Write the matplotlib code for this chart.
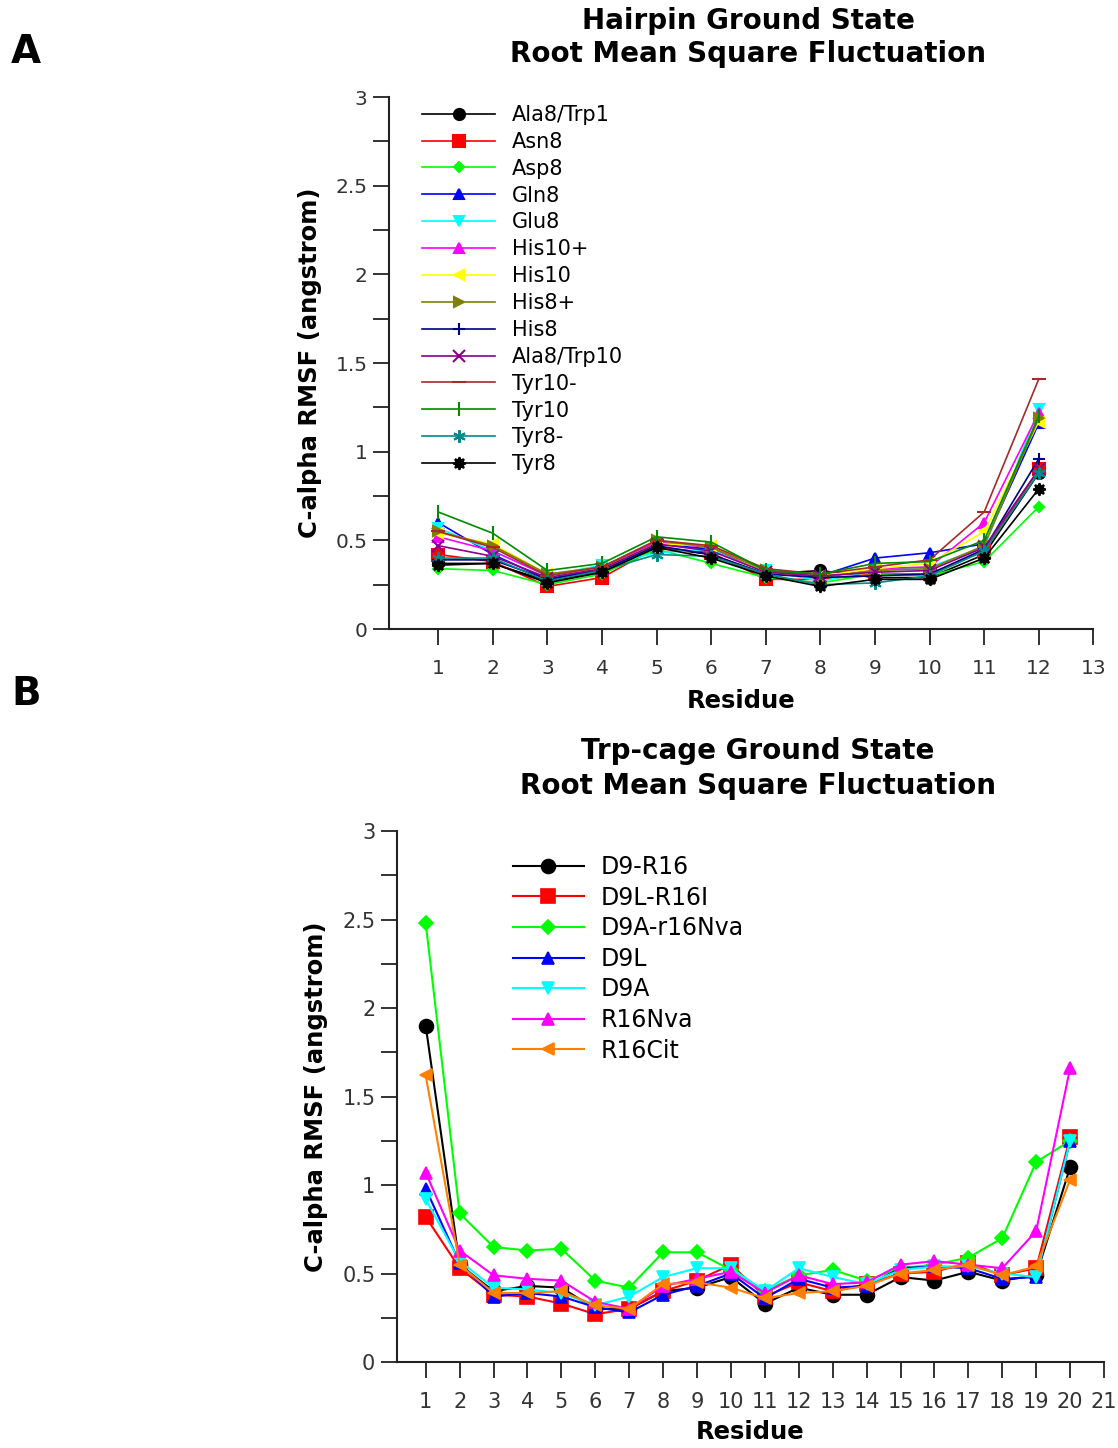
import matplotlib
matplotlib.use('Agg')
import numpy as np
from matplotlib import pyplot as plt
from matplotlib.ticker import MultipleLocator, FormatStrFormatter

# Panel A: hairpin ground state RMSF, residues 1-12
res_a = list(range(1, 13))
names_a = ['Ala8/Trp1', 'Asn8', 'Asp8', 'Gln8', 'Glu8', 'His10+', 'His10',
           'His8+', 'His8', 'Ala8/Trp10', 'Tyr10-', 'Tyr10', 'Tyr8-', 'Tyr8']
ala8_trp1 = [0.37, 0.37, 0.27, 0.32, 0.46, 0.42, 0.31, 0.33, 0.29, 0.29, 0.42, 0.88]
asn8 = [0.42, 0.38, 0.24, 0.29, 0.46, 0.43, 0.28, 0.28, 0.31, 0.31, 0.44, 0.90]
asp8 = [0.34, 0.33, 0.25, 0.31, 0.45, 0.37, 0.29, 0.26, 0.31, 0.30, 0.38, 0.69]
gln8 = [0.60, 0.42, 0.28, 0.34, 0.48, 0.45, 0.33, 0.30, 0.40, 0.43, 0.48, 1.16]
glu8 = [0.57, 0.44, 0.30, 0.36, 0.43, 0.45, 0.33, 0.27, 0.33, 0.35, 0.46, 1.24]
his10p = [0.52, 0.44, 0.30, 0.35, 0.49, 0.46, 0.32, 0.29, 0.34, 0.35, 0.60, 1.22]
his10 = [0.54, 0.48, 0.31, 0.34, 0.48, 0.47, 0.32, 0.30, 0.34, 0.37, 0.55, 1.17]
his8p = [0.55, 0.47, 0.31, 0.35, 0.50, 0.46, 0.33, 0.29, 0.33, 0.34, 0.47, 1.19]
his8 = [0.39, 0.39, 0.28, 0.33, 0.47, 0.42, 0.31, 0.29, 0.30, 0.31, 0.45, 0.96]
ala8_trp10 = [0.47, 0.41, 0.29, 0.34, 0.48, 0.44, 0.32, 0.30, 0.32, 0.33, 0.46, 0.90]
tyr10m = [0.55, 0.46, 0.30, 0.35, 0.50, 0.47, 0.34, 0.31, 0.35, 0.39, 0.66, 1.41]
tyr10 = [0.66, 0.54, 0.33, 0.37, 0.52, 0.49, 0.33, 0.31, 0.37, 0.38, 0.50, 1.20]
tyr8m = [0.40, 0.40, 0.27, 0.33, 0.42, 0.41, 0.31, 0.25, 0.26, 0.30, 0.44, 0.88]
tyr8 = [0.36, 0.37, 0.26, 0.32, 0.46, 0.40, 0.30, 0.24, 0.28, 0.28, 0.40, 0.79]
vals_a = [ala8_trp1, asn8, asp8, gln8, glu8, his10p, his10, his8p, his8,
          ala8_trp10, tyr10m, tyr10, tyr8m, tyr8]

# Panel B: Trp-cage ground state RMSF, residues 1-20
res_b = list(range(1, 21))
names_b = ['D9-R16', 'D9L-R16I', 'D9A-r16Nva', 'D9L', 'D9A', 'R16Nva', 'R16Cit']
d9_r16 = [1.90, 0.55, 0.40, 0.43, 0.42, 0.30, 0.30, 0.40, 0.42, 0.48,
          0.33, 0.42, 0.38, 0.38, 0.48, 0.46, 0.51, 0.46, 0.49, 1.10]
d9l_r16i = [0.82, 0.53, 0.38, 0.37, 0.33, 0.27, 0.30, 0.40, 0.46, 0.55,
            0.37, 0.45, 0.40, 0.44, 0.50, 0.51, 0.56, 0.49, 0.53, 1.27]
d9a_r16nva = [2.48, 0.84, 0.65, 0.63, 0.64, 0.46, 0.42, 0.62, 0.62, 0.52,
              0.40, 0.49, 0.52, 0.46, 0.53, 0.55, 0.59, 0.70, 1.13, 1.25]
d9l = [0.98, 0.56, 0.37, 0.39, 0.37, 0.31, 0.28, 0.38, 0.43, 0.50,
       0.36, 0.47, 0.42, 0.43, 0.53, 0.54, 0.53, 0.47, 0.48, 1.25]
d9a = [0.92, 0.57, 0.42, 0.41, 0.39, 0.32, 0.37, 0.48, 0.53, 0.53,
       0.40, 0.53, 0.48, 0.44, 0.52, 0.54, 0.54, 0.50, 0.48, 1.25]
r16nva = [1.07, 0.63, 0.49, 0.47, 0.46, 0.34, 0.30, 0.43, 0.47, 0.51,
          0.39, 0.49, 0.44, 0.45, 0.55, 0.57, 0.55, 0.53, 0.74, 1.66]
r16cit = [1.62, 0.55, 0.39, 0.39, 0.40, 0.32, 0.30, 0.44, 0.45, 0.42,
          0.36, 0.39, 0.40, 0.43, 0.50, 0.52, 0.55, 0.49, 0.54, 1.03]
vals_b = [d9_r16, d9l_r16i, d9a_r16nva, d9l, d9a, r16nva, r16cit]

# styles (grace-like palette)
colors_a = ['#000000', '#ff0000', '#00ff00', '#0000ff', '#00ffff', '#ff00ff', '#ffff00',
            '#808000', '#000080', '#8b008b', '#a52a2a', '#008b00', '#008b8b', '#000000']
markers_a = ['o', 's', 'D', '^', 'v', '^', '<', '>', '+', 'x', '_', '|', (6, 2, 0), (8, 1, 0)]
msize_a = [8, 8, 5, 7, 7, 7, 7, 7, 9, 8, 10, 10, 9, 9]
colors_b = ['#000000', '#ff0000', '#00ff00', '#0000ff', '#00ffff', '#ff00ff', '#ff8000']
markers_b = ['o', 's', 'D', '^', 'v', '^', '<']
msize_b = [10, 10, 7, 8, 8, 8, 8]

plt.rcParams['font.family'] = 'DejaVu Sans'
fig = plt.figure(figsize=(11.18, 14.48), dpi=100)


def style_axes(ax, xmin, xmax, nmax, fs):
    for s in ['top', 'right']:
        ax.spines[s].set_visible(False)
    for s in ['left', 'bottom']:
        ax.spines[s].set_linewidth(1.5)
        ax.spines[s].set_color('#222222')
    ax.set_xlim(xmin, xmax)
    ax.set_ylim(0, 3)
    ax.set_xticks(range(1, nmax + 1))
    ax.yaxis.set_major_locator(MultipleLocator(0.5))
    ax.yaxis.set_minor_locator(MultipleLocator(0.25))
    ax.yaxis.set_major_formatter(FormatStrFormatter('%g'))
    ax.tick_params(axis='both', which='both', direction='out', length=11.5,
                   width=1.3, color='#222222', labelsize=fs, labelcolor='#333333')
    ax.tick_params(axis='x', pad=10)
    ax.tick_params(axis='y', pad=4)


# A
ax1 = fig.add_axes([0.348, 0.5656, 0.630, 0.3674])
for v, n, c, m, ms in zip(vals_a, names_a, colors_a, markers_a, msize_a):
    ax1.plot(res_a, v, color=c, marker=m, markersize=ms, linewidth=1.2,
             markeredgewidth=1.5, label=n)
style_axes(ax1, 0.1, 13, 13, 14.5)
ax1.set_title('Hairpin Ground State\nRoot Mean Square Fluctuation',
              fontsize=20, fontweight='bold', pad=25, x=0.51, linespacing=1.25)
ax1.set_xlabel('Residue', fontsize=17.5, fontweight='bold', labelpad=8)
ax1.set_ylabel('C-alpha RMSF (angstrom)', fontsize=17.5, fontweight='bold', labelpad=10)
ax1.legend(loc='upper left', bbox_to_anchor=(0.047, 0.985), frameon=False,
           fontsize=15, handlelength=3.5, handletextpad=0.8, labelspacing=0.33,
           borderaxespad=0, borderpad=0)

# B
ax2 = fig.add_axes([0.355, 0.0594, 0.6325, 0.3666])
for v, n, c, m, ms in zip(vals_b, names_b, colors_b, markers_b, msize_b):
    ax2.plot(res_b, v, color=c, marker=m, markersize=ms, linewidth=1.5,
             markeredgewidth=1.2, label=n)
style_axes(ax2, 0.15, 21, 21, 15)
ax2.set_title('Trp-cage Ground State\nRoot Mean Square Fluctuation',
              fontsize=20, fontweight='bold', pad=27, x=0.51, linespacing=1.3)
ax2.set_xlabel('Residue', fontsize=17.5, fontweight='bold', labelpad=6)
ax2.set_ylabel('C-alpha RMSF (angstrom)', fontsize=17.5, fontweight='bold', labelpad=10)
ax2.legend(loc='upper left', bbox_to_anchor=(0.164, 0.955), frameon=False,
           fontsize=17, handlelength=3.0, handletextpad=0.7, labelspacing=0.28,
           borderaxespad=0, borderpad=0)

fig.text(0.01, 0.964, 'A', fontsize=28, fontweight='bold', ha='left', va='center')
fig.text(0.01, 0.521, 'B', fontsize=28, fontweight='bold', ha='left', va='center')

fig.savefig('out.png', dpi=100)
